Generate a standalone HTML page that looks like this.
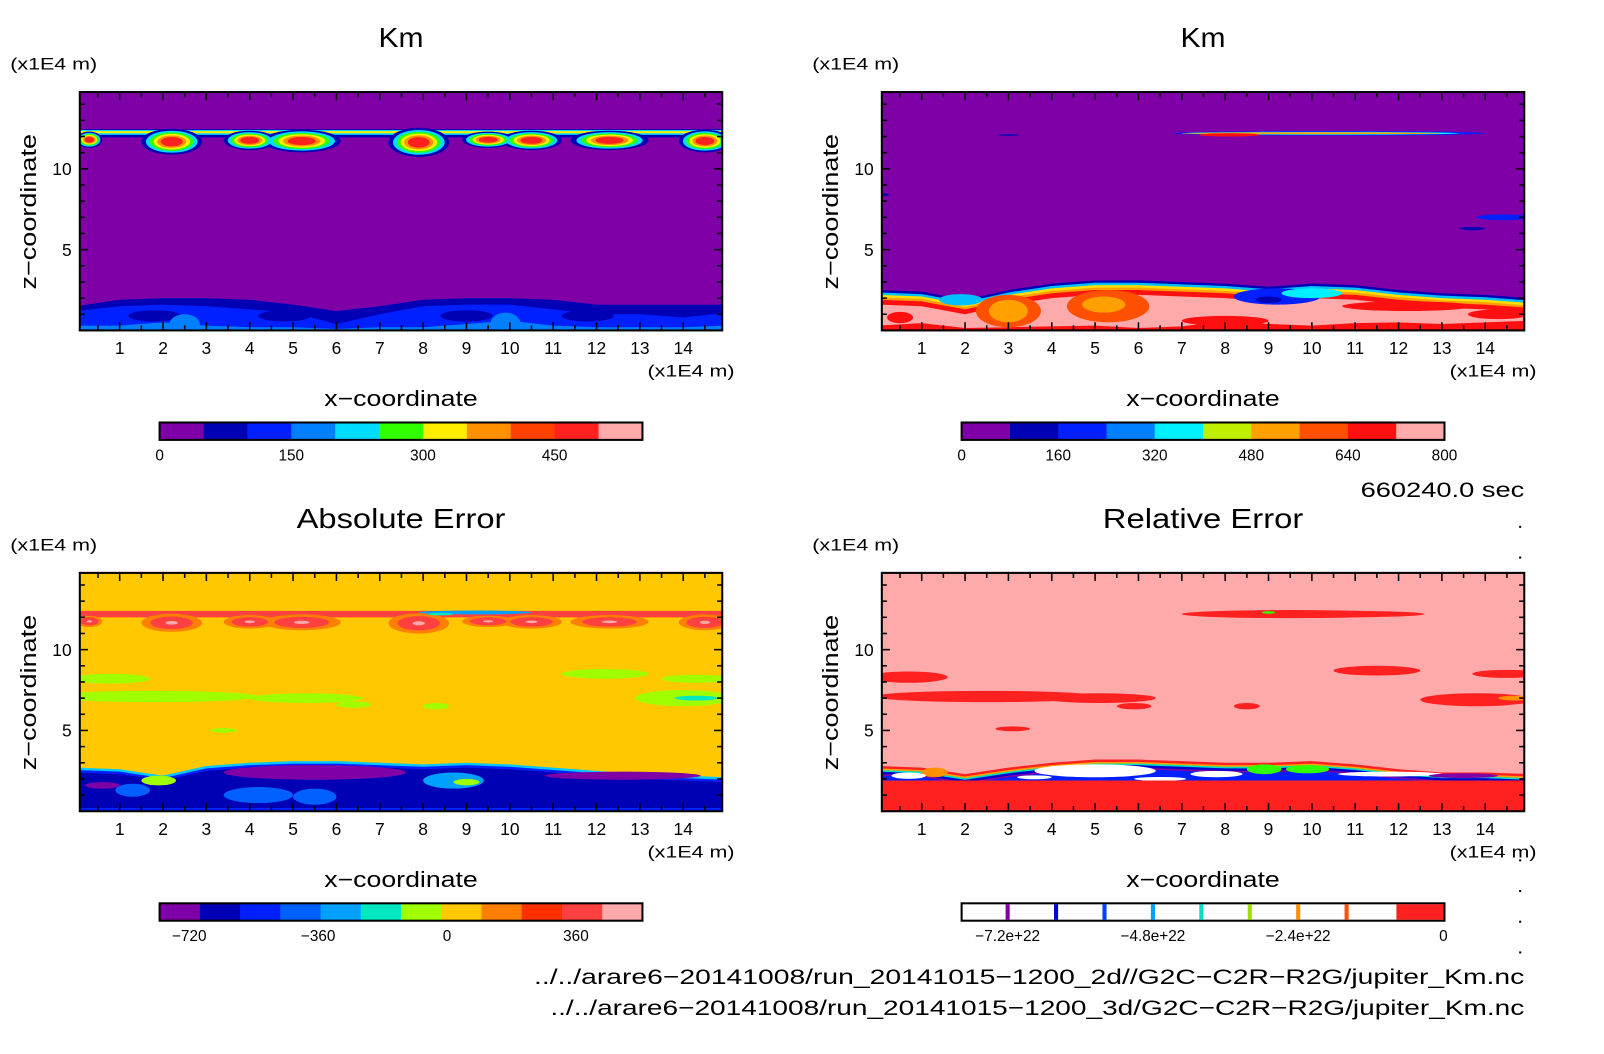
<!DOCTYPE html>
<html><head><meta charset="utf-8"><style>
html,body{margin:0;padding:0;background:#fff;}
svg{display:block;font-family:"Liberation Sans",sans-serif;}
</style></head><body>
<svg id="fig" width="1604" height="1054" viewBox="0 0 1604 1054" xmlns="http://www.w3.org/2000/svg"><g id="root" transform="scale(1.023)"></g></svg>
<script>
// ---------- data ----------
const xGrid = [0,1,2,3,4,5,6,7,8,9,10,11,12,13,14,15];
const xTicks = [1,2,3,4,5,6,7,8,9,10,11,12,13,14];
const yTicksMajor = [5,10];
// panel 1 (Km 2d)
const p1Mound = [1.5,1.9,2.0,2.0,1.9,1.6,1.2,1.5,1.9,2.0,2.0,1.9,1.6,1.6,1.6,1.6];
const p1Blue  = [1.2,1.5,1.6,1.5,1.3,1.1,0.4,1.0,1.5,1.6,1.6,1.3,1.0,1.0,0.8,1.1];
const p1Light = [0.3,0.3,0.5,0.3,0.2,0.2,0.1,0.2,0.2,0.4,0.6,0.3,0.2,0.2,0.2,0.3];
const blobX = [0.3,2.2,4.0,5.2,7.9,9.5,10.5,12.3,14.5];
const blobW = [0.3,0.7,0.6,0.9,0.7,0.6,0.7,0.9,0.6];
const blobH = [0.5,0.8,0.6,0.7,0.9,0.5,0.6,0.6,0.7];
// panel 2 (Km 3d)
const p2Top = [2.5,2.4,1.9,2.5,2.9,3.1,3.1,3.0,2.9,2.7,2.9,2.8,2.5,2.3,2.2,2.0];
const p2Red = [0.6,0.9,0.3,0.4,0.5,0.6,0.3,0.5,1.2,0.8,0.6,0.9,1.0,0.8,1.0,1.2];
// panel 3 (absolute error)
const p3Top = [2.7,2.6,2.2,2.8,3.0,3.1,3.1,3.0,2.9,3.0,2.9,2.7,2.5,2.3,2.2,2.1];
const greenX = [0.8,1.8,5.3,6.4,8.3,12.2,14.3,14.0,3.4];
const greenY = [8.2,7.1,7.0,6.6,6.5,8.5,8.2,7.0,5.0];
const greenW = [0.9,2.4,1.3,0.4,0.3,1.0,0.8,1.1,0.3];
const greenH = [0.3,0.35,0.3,0.2,0.2,0.3,0.25,0.5,0.15];
// panel 4 (relative error)
const p4Top = [2.8,2.7,2.3,2.7,3.0,3.2,3.2,3.1,3.0,3.0,3.1,2.9,2.6,2.4,2.4,2.3];
const redX = [0.7,2.5,5.1,5.9,9.5,8.5,11.5,14.5,13.8,10.7,3.1];
const redY = [8.3,7.1,7.0,6.5,12.2,6.5,8.7,8.5,6.9,12.2,5.1];
const redW = [0.9,2.6,1.3,0.4,2.5,0.3,1.0,0.8,1.3,1.9,0.4];
const redH = [0.35,0.35,0.3,0.2,0.25,0.2,0.3,0.25,0.4,0.2,0.15];
// colorbars
const cb1Colors = ['#8000a8','#0000b4','#0020ff','#0080ff','#00dcff','#30ff00','#ffee00','#ff9000','#ff4000','#ff2020','#ffaaaa'];
const cb1Labels = [0,150,300,450];
const cb2Colors = ['#8000a8','#0000b4','#0020ff','#0080ff','#00f0ff','#c0f000','#ffa000','#ff5000','#ff1010','#ffaaaa'];
const cb2Labels = [0,160,320,480,640,800];
const cb3Colors = ['#8000a8','#0000b4','#0020ff','#0060ff','#00a0ff','#00e8c0','#a0ff00','#ffc800','#ff8000','#ff3000','#ff4040','#ffaaaa'];
const cb3Labels = [-720,-360,0,360];
const cb4LineColors = ['#8000a8','#0000d0','#0040ff','#00a0ff','#00e0c0','#a0e000','#ff9000','#ff5000'];
const cb4Labels = ['\u22127.2e+22','\u22124.8e+22','\u22122.4e+22','0'];
const cb4LabelVals = [-7.2,-4.8,-2.4,0];

// ---------- helpers ----------
const NS='http://www.w3.org/2000/svg';
const root=document.getElementById('root');
function mk(tag,attrs,parent){const e=document.createElementNS(NS,tag);for(const k in attrs)e.setAttribute(k,attrs[k]);(parent||root).appendChild(e);return e;}
function txt(s,x,y,size,anchor,parent,rot,len){const t=mk('text',{x:x,y:y,'font-size':size,'text-anchor':anchor||'middle',fill:'#000'},parent);if(rot)t.setAttribute('transform',rot);if(len){t.setAttribute('textLength',len);t.setAttribute('lengthAdjust','spacingAndGlyphs');}t.textContent=s;return t;}
const W=628,H=233,X0=0.08,X1=14.9,Y1=14.75;
function axes(ox,oy){return{sx:v=>78+ox+(v-X0)*W/(X1-X0),sy:v=>90+oy+H-v*H/Y1};}
function band(g,a,lo,hi,color){
  let d='M'+a.sx(xGrid[0])+','+a.sy(hi[0]);
  for(let i=1;i<xGrid.length;i++)d+='L'+a.sx(xGrid[i])+','+a.sy(hi[i]);
  for(let i=xGrid.length-1;i>=0;i--)d+='L'+a.sx(xGrid[i])+','+a.sy(lo[i]);
  const p=mk('path',{d:d+'Z',fill:color},g);
  
  
}
function ell(g,a,x,y,rx,ry,color){
  const e=mk('ellipse',{cx:a.sx(x),cy:a.sy(y),rx:rx*W/(X1-X0),ry:ry*H/Y1,fill:color},g);
  
  
}
const zeros=xGrid.map(()=>0);
const shift=(arr,d)=>arr.map(v=>Math.max(0,v-d));
function panel(ox,oy,title,titleLen,name,draw){
  const g=mk('g',{});
  
  
  const a=axes(ox,oy);
  const cid='clip'+ox+'_'+oy;
  const cp=mk('clipPath',{id:cid},g);mk('rect',{x:78+ox,y:90+oy,width:W,height:H},cp);
  const inner=mk('g',{'clip-path':'url(#'+cid+')'},g);
  draw(inner,a);
  const fr=mk('rect',{x:78+ox,y:90+oy,width:W,height:H,fill:'none',stroke:'#000','stroke-width':2},g);
  
  for(let v=0.5;v<15;v+=0.5){const major=Number.isInteger(v);const L=major?8:5;const x=a.sx(v);
    mk('line',{x1:x,x2:x,y1:90+oy,y2:90+oy+L,stroke:'#000','stroke-width':1.5},g);
    mk('line',{x1:x,x2:x,y1:90+oy+H,y2:90+oy+H-L,stroke:'#000','stroke-width':1.5},g);}
  for(let v=1;v<=14;v++){const major=yTicksMajor.includes(v);const L=major?8:5;const y=a.sy(v);
    mk('line',{x1:78+ox,x2:78+ox+L,y1:y,y2:y,stroke:'#000','stroke-width':1.5},g);
    mk('line',{x1:78+ox+W,x2:78+ox+W-L,y1:y,y2:y,stroke:'#000','stroke-width':1.5},g);}
  xTicks.forEach(v=>{const t=txt(String(v),a.sx(v),346+oy,17,'middle',g);});
  yTicksMajor.forEach(v=>{const t=txt(String(v),70+ox,a.sy(v)+6,17,'end',g);});
  let t=txt(title,392+ox,46+oy,27,'middle',g,null,titleLen);
  t=txt('(x1E4 m)',10+ox,68+oy,16,'start',g,null,85);
  t=txt('(x1E4 m)',718+ox,368+oy,16,'end',g,null,85);
  t=txt('x\u2212coordinate',392+ox,397+oy,22,'middle',g,null,150);
  t=txt('z\u2212coordinate',0,0,22,'middle',g,'translate('+(35+ox)+','+(207+oy)+') rotate(-90)',152);
}
function colorbar(x0,y0,w,colors,name){
  const g=mk('g',{});
  const sw=w/colors.length;
  colors.forEach((c,i)=>{const r=mk('rect',{x:x0+i*sw,y:y0,width:sw+0.5,height:17,fill:c},g);
    });
  mk('rect',{x:x0,y:y0,width:w,height:17,fill:'none',stroke:'#000','stroke-width':2},g);
  return g;
}

// ---------- panels ----------
panel(0,0,'Km',44,'panel-km-2d',(g,a)=>{
  mk('rect',{x:0,y:0,width:1604,height:1054,fill:'#8000a8'},g);
  band(g,a,zeros,p1Mound,'#0000b4');
  band(g,a,zeros,p1Blue,'#0020ff');
  band(g,a,zeros,p1Light,'#0080ff');
  [1.8,4.8,9.0,11.8].forEach(x=>ell(g,a,x,0.9,0.6,0.35,'#0000b4'));
  ell(g,a,2.5,0.4,0.35,0.6,'#0080ff');ell(g,a,9.9,0.4,0.35,0.7,'#0080ff');
  band(g,a,xGrid.map(()=>11.95),xGrid.map(()=>12.45),'#0000b4');
  band(g,a,xGrid.map(()=>12.1),xGrid.map(()=>12.4),'#00dcff');
  band(g,a,xGrid.map(()=>12.2),xGrid.map(()=>12.33),'#ffee00');
  const layers=[['#0000b4',1],['#00dcff',0.85],['#30ff00',0.72],['#ffee00',0.6],['#ff9000',0.48],['#ff2020',0.36]];
  layers.forEach(([c,f])=>blobX.forEach((x,i)=>ell(g,a,x,12.0-blobH[i]*0.4,blobW[i]*f,blobH[i]*f,c)));
});
panel(784,0,'Km',44,'panel-km-3d',(g,a)=>{
  mk('rect',{x:0,y:0,width:1604,height:1054,fill:'#8000a8'},g);
  band(g,a,zeros,p2Top,'#0000b4');
  band(g,a,zeros,shift(p2Top,0.15),'#00c0ff');
  band(g,a,zeros,shift(p2Top,0.3),'#ffe000');
  band(g,a,zeros,shift(p2Top,0.45),'#ffa000');
  band(g,a,zeros,shift(p2Top,0.6),'#ff1010');
  band(g,a,zeros,shift(p2Top,0.9),'#ffaaaa');
  ell(g,a,9.2,2.1,1.0,0.5,'#0020ff');ell(g,a,10.0,2.3,0.7,0.3,'#00f0ff');ell(g,a,9.0,1.9,0.3,0.2,'#0000b4');
  ell(g,a,1.9,1.9,0.5,0.35,'#00c0ff');
  ell(g,a,3.0,1.2,0.75,1.0,'#ff5000');ell(g,a,3.0,1.2,0.45,0.7,'#ffa000');
  ell(g,a,5.3,1.5,0.95,1.0,'#ff5000');ell(g,a,5.2,1.6,0.5,0.5,'#ffa000');
  ell(g,a,0.5,0.8,0.3,0.35,'#ff1010');
  band(g,a,zeros,p2Red.map(v=>v*0.5),'#ff1010');
  ell(g,a,12.2,1.5,1.5,0.3,'#ff1010');ell(g,a,8.0,0.6,1.0,0.3,'#ff1010');ell(g,a,14.3,1.0,0.7,0.3,'#ff1010');
  ell(g,a,10.4,12.2,3.6,0.14,'#0020ff');ell(g,a,10.2,12.2,3.2,0.09,'#00f0ff');ell(g,a,10.0,12.2,3.0,0.06,'#ffa000');ell(g,a,8.1,12.1,0.7,0.1,'#ff1010');
  ell(g,a,14.4,7.0,0.6,0.18,'#0020ff');ell(g,a,13.7,6.3,0.3,0.1,'#0000b4');
  ell(g,a,0.05,8.4,0.2,0.1,'#0000b4');ell(g,a,3.0,12.1,0.25,0.05,'#0000b4');
});
panel(0,470,'Absolute Error',204,'panel-absolute-error',(g,a)=>{
  mk('rect',{x:0,y:0,width:1604,height:1054,fill:'#ffc800'},g);
  band(g,a,zeros,p3Top,'#00c8ff');
  band(g,a,zeros,shift(p3Top,0.15),'#0020ff');
  band(g,a,zeros,shift(p3Top,0.3),'#0000b4');
  ell(g,a,5.5,2.4,2.1,0.45,'#8000a8');ell(g,a,12.6,2.2,1.8,0.25,'#8000a8');ell(g,a,0.6,1.6,0.4,0.2,'#8000a8');
  ell(g,a,4.2,1.0,0.8,0.5,'#0060ff');ell(g,a,5.5,0.9,0.5,0.5,'#0060ff');ell(g,a,1.3,1.3,0.4,0.4,'#0060ff');
  ell(g,a,8.7,1.9,0.7,0.5,'#00a0ff');ell(g,a,9.0,1.8,0.3,0.2,'#a0ff00');ell(g,a,1.9,1.9,0.4,0.3,'#a0ff00');
  band(g,a,zeros,xGrid.map(()=>0.2),'#0020ff');
  band(g,a,xGrid.map(()=>12.0),xGrid.map(()=>12.4),'#ff4040');
  [['#ff8000',1],['#ff4040',0.7],['#ffaaaa',0.2]].forEach(([c,f])=>blobX.forEach((x,i)=>ell(g,a,x,11.9-blobH[i]*0.3,blobW[i]*f,blobH[i]*0.7*f,c)));
  ell(g,a,9.2,12.3,1.3,0.12,'#00a0ff');ell(g,a,8.4,12.2,0.3,0.08,'#00e8c0');
  greenX.forEach((x,i)=>ell(g,a,x,greenY[i],greenW[i],greenH[i],'#a0ff00'));
  ell(g,a,14.3,7.0,0.5,0.15,'#00e8c0');
});
panel(784,470,'Relative Error',196,'panel-relative-error',(g,a)=>{
  mk('rect',{x:0,y:0,width:1604,height:1054,fill:'#ffaaaa'},g);
  band(g,a,zeros,p4Top,'#ff2020');
  band(g,a,zeros,shift(p4Top,0.15),'#ffa000');
  band(g,a,zeros,shift(p4Top,0.25),'#00e0c0');
  band(g,a,zeros,shift(p4Top,0.35),'#0000d0');
  band(g,a,zeros,shift(p4Top,0.5),'#8000a8');
  band(g,a,zeros,shift(p4Top,0.6),'#0020ff');
  ell(g,a,5.0,2.5,1.4,0.4,'#ffffff');ell(g,a,7.8,2.3,0.6,0.2,'#ffffff');ell(g,a,11.8,2.3,1.2,0.15,'#ffffff');
  ell(g,a,3.6,2.1,0.4,0.12,'#ffffff');ell(g,a,6.5,2.0,0.6,0.12,'#ffffff');
  ell(g,a,8.9,2.6,0.4,0.3,'#30ff00');ell(g,a,9.9,2.6,0.5,0.25,'#30ff00');ell(g,a,1.3,2.4,0.3,0.3,'#ff9000');
  ell(g,a,0.7,2.2,0.4,0.2,'#ffffff');ell(g,a,13.5,2.2,0.8,0.15,'#8000a8');
  band(g,a,zeros,xGrid.map(()=>1.9),'#ff2020');
  redX.forEach((x,i)=>ell(g,a,x,redY[i],redW[i],redH[i],'#ff2020'));
  ell(g,a,14.7,7.0,0.4,0.15,'#ff9000');ell(g,a,9.0,12.3,0.15,0.08,'#30ff00');
});

// ---------- colorbars ----------
colorbar(156,413,472,cb1Colors,'colorbar-km-2d');
cb1Labels.forEach(v=>{const t=txt(String(v),156+v*472/550,450,15,'middle');});
colorbar(940,413,472,cb2Colors,'colorbar-km-3d');
cb2Labels.forEach(v=>{const t=txt(String(v),940+v*472/800,450,15,'middle');});
colorbar(156,883,472,cb3Colors,'colorbar-absolute-error');
cb3Labels.forEach(v=>{const t=txt(v<0?'\u2212'+Math.abs(v):String(v),437+v*126/360,920,15,'middle');});
{
  const g=colorbar(940,883,472,['#ffffff'],'colorbar-relative-error');
  const r=mk('rect',{x:1365,y:884,width:46,height:15,fill:'#ff2020'},g);
  
  cb4LineColors.forEach((c,i)=>{const x=985+i*0.8*(1411-985)/7.2;const l=mk('rect',{x:x-2,y:884,width:4,height:15,fill:c},g);
    });
  cb4Labels.forEach((s,i)=>{const t=txt(s,1411+cb4LabelVals[i]*(1411-985)/7.2,920,15,'middle');});
}

// ---------- annotations ----------
let t=txt('660240.0 sec',1490,486,21,'end',null,null,160);
t=txt('../../arare6\u221220141008/run_20141015\u22121200_2d//G2C\u2212C2R\u2212R2G/jupiter_Km.nc',1490,962,21,'end',null,null,968);
t=txt('../../arare6\u221220141008/run_20141015\u22121200_3d/G2C\u2212C2R\u2212R2G/jupiter_Km.nc',1490,992,21,'end',null,null,952);
[514,544,840,870,900,930].forEach(y=>mk('rect',{x:1485,y:y,width:2,height:2,fill:'#000'}));
</script>
</body></html>
